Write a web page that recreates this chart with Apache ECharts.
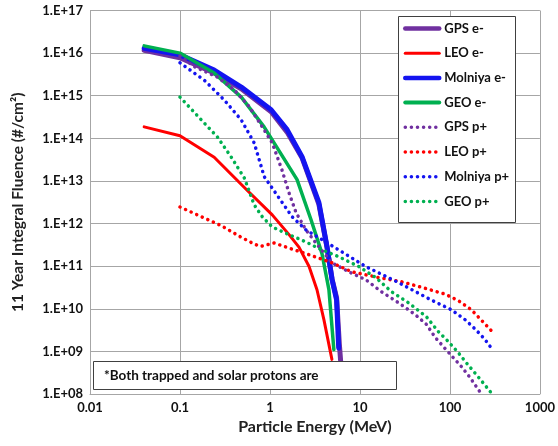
<!DOCTYPE html>
<html>
<head>
<meta charset="utf-8">
<script src="https://cdn.jsdelivr.net/npm/echarts@6/dist/echarts.min.js"></script>
<style>
html,body{margin:0;padding:0;background:#fff;}
#chart{width:558px;height:446px;}
</style>
</head>
<body>
<div id="chart"></div>
<script>
// ---- Data (energy in MeV, fluence in #/cm^2) ----
const seriesNames = ['GPS e-','LEO e-','Molniya e-','GEO e-','GPS p+','LEO p+','Molniya p+','GEO p+'];
const xTickLabels = ['0.01','0.1','1','10','100','1000'];
const yTickLabels = ['1.E+08','1.E+09','1.E+10','1.E+11','1.E+12','1.E+13','1.E+14','1.E+15','1.E+16','1.E+17'];

const gpsE_energy   = [0.04, 0.1, 0.24, 0.48, 1.03, 1.55, 2.27, 3.5, 4.3, 4.9, 5.5, 5.9, 6.1];
const gpsE_fluence  = [1.17e16, 7.8e15, 3.4e15, 1.45e15, 4.2e14, 1.4e14, 3.5e13, 2.8e12, 2.8e11, 5e10, 1.8e10, 1.5e9, 6e8];

const leoE_energy   = [0.04, 0.1, 0.24, 0.55, 1.06, 1.63, 2.1, 2.72, 3.33, 3.98, 4.88];
const leoE_fluence  = [1.86e14, 1.15e14, 3.6e13, 6.2e12, 1.6e12, 5.5e11, 2.8e11, 9.8e10, 2.8e10, 5.5e9, 6.5e8];

const molE_energy   = [0.04, 0.1, 0.24, 0.48, 1.03, 1.55, 2.27, 3.5, 4.3, 4.9, 5.5, 5.8];
const molE_fluence  = [1.3e16, 9.1e15, 4.0e15, 1.6e15, 4.7e14, 1.6e14, 3.7e13, 3.1e12, 2.9e11, 4.8e10, 1.6e10, 1.2e9];

const geoE_energy   = [0.04, 0.1, 0.24, 0.48, 0.86, 2.0, 2.86, 3.78, 4.52, 5.13];
const geoE_fluence  = [1.48e16, 1.0e16, 3.4e15, 9.3e14, 1.86e14, 1.07e13, 1.23e12, 2.0e11, 2.8e10, 1.1e9];

const gpsP_energy   = [0.1, 0.145, 0.26, 0.4, 0.59, 0.82, 1.06, 1.36, 1.63, 1.95, 2.51, 3.24, 4.88, 7.5, 11.6, 17.4, 26.9, 41.4, 54.8, 68.9, 88.9, 134, 168, 224];
const gpsP_fluence  = [8.5e15, 4.8e15, 2.75e15, 1.38e15, 5.5e14, 1.86e14, 7.8e13, 1.8e13, 5.2e12, 1.8e12, 7.1e11, 3.5e11, 1.2e11, 7.4e10, 4.8e10, 2.5e10, 1.38e10, 7.2e9, 4.3e9, 2.1e9, 1.15e9, 4.4e8, 2.4e8, 1.0e8];

const leoP_energy   = [0.1, 0.173, 0.288, 0.468, 0.652, 0.78, 1.11, 1.59, 2.72, 4.88, 8.1, 16.1, 29, 50.8, 88.9, 124, 173, 222, 287];
const leoP_fluence  = [2.45e12, 1.45e12, 8.9e11, 4.9e11, 3.4e11, 2.9e11, 3.5e11, 2.7e11, 1.86e11, 1.2e11, 7.4e10, 5.4e10, 4.3e10, 3.1e10, 2.2e10, 1.55e10, 9.5e9, 5.5e9, 3.1e9];

const molP_energy   = [0.1, 0.187, 0.311, 0.48, 0.668, 0.863, 1.26, 1.76, 2.51, 3.78, 5.82, 11.6, 26.9, 62.2, 103.5, 148, 195, 245, 280];
const molP_fluence  = [5.9e15, 2.3e15, 7.9e14, 2.7e14, 7.8e13, 1.26e13, 4.0e12, 1.45e12, 7.1e11, 4.2e11, 2.4e11, 9.8e10, 4.1e10, 1.6e10, 9.5e9, 5.5e9, 3.2e9, 1.9e9, 1.3e9];

const geoP_energy   = [0.1, 0.173, 0.261, 0.372, 0.519, 0.668, 0.82, 1.06, 1.63, 2.51, 3.5, 5.82, 9.7, 15, 22.5, 34.7, 54.8, 74.5, 96, 124, 158, 204, 287];
const geoP_fluence  = [9.3e14, 2.7e14, 1.07e14, 3.6e13, 1.17e13, 2.75e12, 1.45e12, 8.3e11, 5.5e11, 3.7e11, 2.6e11, 1.66e11, 9.8e10, 5.4e10, 2.5e10, 1.38e10, 6.5e9, 2.9e9, 1.7e9, 9.3e8, 4.9e8, 2.6e8, 1.07e8];

const noteText = '*Both trapped and solar protons are';

// ---- Build chart ----
function pairs(xs, ys){ return xs.map((x,i)=>[x, ys[i]]); }
const FONT = 'Lato, "Open Sans", sans-serif';
const colors = ['#7030A0','#FF0000','#1414F0','#00B050','#7030A0','#FF0000','#1414F0','#00B050'];
const datasets = [
  pairs(gpsE_energy, gpsE_fluence), pairs(leoE_energy, leoE_fluence),
  pairs(molE_energy, molE_fluence), pairs(geoE_energy, geoE_fluence),
  pairs(gpsP_energy, gpsP_fluence), pairs(leoP_energy, leoP_fluence),
  pairs(molP_energy, molP_fluence), pairs(geoP_energy, geoP_fluence)
];
const widths = [5, 3, 5, 3.5, 3.5, 3.5, 3.5, 3.5];
const legendWidths = [4.5, 3, 4.5, 4, 3.5, 3.5, 3.5, 3.5];
const dashOf = i => (i >= 4 ? [0.1, 6] : 'solid');

const series = seriesNames.map((name, i) => ({
  name: name,
  type: 'line',
  data: datasets[i],
  symbol: 'none',
  smooth: false,
  z: 2 + i,
  lineStyle: { color: colors[i], width: widths[i], type: dashOf(i), cap: 'round', join: 'round' },
  itemStyle: { color: colors[i] }
}));

const chart = echarts.init(document.getElementById('chart'), null, {renderer: 'canvas'});
chart.setOption({
  animation: false,
  backgroundColor: '#ffffff',
  grid: { left: 90, right: 16, top: 10.5, bottom: 52, containLabel: false },
  xAxis: {
    type: 'log', logBase: 10, min: 0.01, max: 1000, interval: 1,
    name: 'Particle Energy (MeV)', nameLocation: 'middle', nameGap: 25,
    nameTextStyle: { fontFamily: FONT, fontWeight: 'bold', fontSize: 16, color: '#222' },
    axisLine: { show: true, lineStyle: { color: '#A6A6A6', width: 1 } },
    axisTick: { show: false },
    minorTick: { show: false },
    splitLine: { show: true, lineStyle: { color: '#A6A6A6', width: 1 } },
    axisLabel: {
      fontFamily: FONT, fontWeight: 'bold', fontSize: 13, color: '#111', margin: 7,
      formatter: v => xTickLabels[Math.round(Math.log10(v)) + 2]
    }
  },
  yAxis: {
    type: 'log', logBase: 10, min: 1e8, max: 1e17, interval: 1,
    name: '11 Year Integral Fluence (#/cm²)', nameLocation: 'middle', nameGap: 64,
    nameTextStyle: { fontFamily: FONT, fontWeight: 'bold', fontSize: 15.5, color: '#222' },
    axisLine: { show: true, lineStyle: { color: '#A6A6A6', width: 1 } },
    axisTick: { show: false },
    splitLine: { show: true, lineStyle: { color: '#A6A6A6', width: 1 } },
    axisLabel: {
      fontFamily: FONT, fontWeight: 'bold', fontSize: 13, color: '#111', margin: 7,
      formatter: v => yTickLabels[Math.round(Math.log10(v)) - 8]
    }
  },
  legend: {
    orient: 'vertical', left: 403, top: 22, padding: 0, z: 6,
    itemWidth: 34, itemHeight: 14, itemGap: 11.7,
    itemStyle: { opacity: 0 },
    textStyle: { fontFamily: FONT, fontWeight: 'bold', fontSize: 13, color: '#111' },
    data: seriesNames.map((n, i) => ({
      name: n,
      lineStyle: { color: colors[i], width: legendWidths[i], type: dashOf(i), cap: 'round' }
    }))
  },
  graphic: [
    { type: 'rect', z: 5, shape: { x: 398.5, y: 16.5, width: 117, height: 206 },
      style: { fill: '#fff', stroke: '#404040', lineWidth: 1 } },
    { type: 'rect', z: 20, shape: { x: 93.5, y: 361.5, width: 303, height: 28 },
      style: { fill: '#fff', stroke: '#404040', lineWidth: 1 } },
    { type: 'text', z: 21, x: 104, y: 375.5,
      style: { text: noteText, fontFamily: FONT, fontWeight: 'bold', fontSize: 13.5, fill: '#111', verticalAlign: 'middle' } }
  ],
  series: series
});
</script>
</body>
</html>
